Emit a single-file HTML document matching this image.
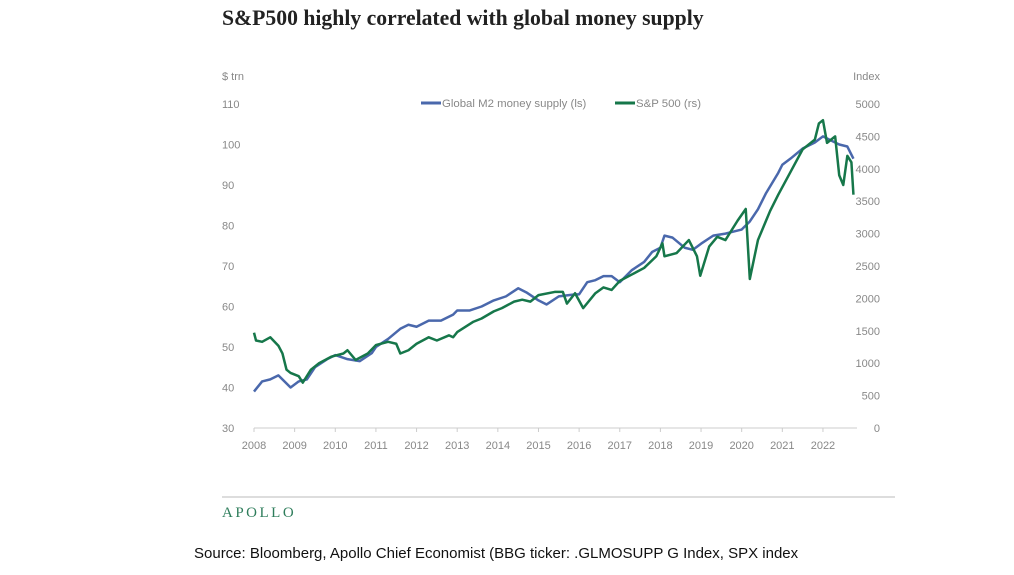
<!DOCTYPE html>
<html><head><meta charset="utf-8"><style>
body{margin:0;width:1014px;height:570px;background:#fff;overflow:hidden;font-family:"Liberation Sans",sans-serif}
</style></head><body>
<svg width="1014" height="570">
<text x="222" y="25" font-family="Liberation Serif" font-weight="bold" font-size="21.7" fill="#222">S&amp;P500 highly correlated with global money supply</text>
<text x="222" y="80" font-size="11" fill="#888">$ trn</text>
<text x="880" y="80" font-size="11" fill="#888" text-anchor="end">Index</text>
<g>
<line x1="421" y1="103" x2="441" y2="103" stroke="#4a68ac" stroke-width="3"/>
<text x="442" y="107" font-size="11.4" fill="#888">Global M2 money supply (ls)</text>
<line x1="615" y1="103" x2="635" y2="103" stroke="#16774a" stroke-width="3"/>
<text x="636" y="107" font-size="11.4" fill="#888">S&amp;P 500 (rs)</text>
</g>
<g id="axes"></g>
<g id="lines"></g>
<line x1="222" y1="497" x2="895" y2="497" stroke="#bbb" stroke-width="1"/>
<text x="222" y="517" font-family="Liberation Serif" font-size="15" letter-spacing="2.5" fill="#2e7d5b">APOLLO</text>
<text x="194" y="558" font-size="15" fill="#111">Source: Bloomberg, Apollo Chief Economist (BBG ticker: .GLMOSUPP G Index, SPX index</text>
</svg>
<script>
const years=[2008,2009,2010,2011,2012,2013,2014,2015,2016,2017,2018,2019,2020,2021,2022];
const leftTicks=[30,40,50,60,70,80,90,100,110];
const rightTicks=[0,500,1000,1500,2000,2500,3000,3500,4000,4500,5000];
const m2T=[2008,2008.2,2008.4,2008.6,2008.9,2009.1,2009.3,2009.5,2009.8,2010,2010.3,2010.6,2010.9,2011,2011.3,2011.6,2011.8,2012,2012.3,2012.6,2012.9,2013,2013.3,2013.6,2013.9,2014.2,2014.5,2014.7,2015,2015.2,2015.5,2015.9,2016,2016.2,2016.4,2016.6,2016.8,2017,2017.3,2017.6,2017.8,2018,2018.1,2018.3,2018.6,2018.8,2019,2019.3,2019.6,2019.8,2020,2020.2,2020.4,2020.6,2020.9,2021,2021.2,2021.5,2021.8,2022,2022.2,2022.4,2022.6,2022.75];
const m2V=[39,41.5,42,43,40,41.5,42,45,47,48,47,46.5,48.5,50,52,54.5,55.5,55,56.5,56.5,58,59,59,60,61.5,62.5,64.5,63.5,61.5,60.5,62.5,63,63,66,66.5,67.5,67.5,66,69,71,73.5,74.5,77.5,77,74.5,74,75.5,77.5,78,78.5,79,81,84,88,93,95,96.5,99,100.5,102,101,100,99.5,96.5];
const spxT=[2008,2008.05,2008.2,2008.4,2008.6,2008.7,2008.8,2008.9,2009.1,2009.2,2009.4,2009.6,2009.9,2010.2,2010.3,2010.5,2010.8,2011,2011.3,2011.5,2011.6,2011.8,2012,2012.3,2012.5,2012.8,2012.9,2013,2013.4,2013.6,2013.9,2014.1,2014.4,2014.6,2014.8,2015,2015.4,2015.6,2015.7,2015.9,2016.1,2016.4,2016.6,2016.8,2017,2017.3,2017.6,2017.9,2018.05,2018.1,2018.4,2018.7,2018.9,2018.98,2019.2,2019.4,2019.6,2019.9,2020.1,2020.2,2020.4,2020.6,2020.7,2020.9,2021.2,2021.5,2021.8,2021.9,2022,2022.1,2022.3,2022.4,2022.5,2022.6,2022.7,2022.75];
const spxV=[1470,1350,1330,1400,1270,1150,900,850,800,700,900,1000,1100,1150,1200,1050,1150,1280,1330,1300,1150,1200,1300,1400,1350,1430,1400,1480,1640,1690,1800,1850,1950,1980,1950,2050,2100,2100,1920,2080,1850,2080,2170,2130,2270,2370,2470,2650,2850,2650,2700,2900,2650,2350,2800,2950,2900,3200,3380,2300,2900,3200,3350,3600,3950,4300,4450,4700,4750,4400,4500,3900,3750,4200,4100,3600];
const NS="http://www.w3.org/2000/svg";
const x=t=>254+(t-2008)*40.64;
const yL=v=>428-(v-30)*4.05;
const yR=v=>428-v*0.0648;
const ax=document.getElementById('axes'),ln=document.getElementById('lines');
function mk(tag,at,par){const e=document.createElementNS(NS,tag);for(const k in at)e.setAttribute(k,at[k]);par.appendChild(e);return e;}
const base=mk('line',{x1:254,y1:428,x2:857,y2:428,stroke:'#ccc'},ax);


years.forEach(yr=>{
 mk('line',{x1:x(yr),y1:428,x2:x(yr),y2:432,stroke:'#ccc'},ax);
 const t=mk('text',{x:x(yr),y:449,'font-size':11,fill:'#888','text-anchor':'middle'},ax);t.textContent=yr;
 
 
});
leftTicks.forEach(v=>{const t=mk('text',{x:222,y:yL(v)+4,'font-size':11,fill:'#888'},ax);t.textContent=v;
 
 });
rightTicks.forEach(v=>{const t=mk('text',{x:880,y:yR(v)+4,'font-size':11,fill:'#888','text-anchor':'end'},ax);t.textContent=v;
 
 });
const pm=mk('polyline',{points:m2T.map((t,i)=>x(t)+','+yL(m2V[i])).join(' '),fill:'none',stroke:'#4a68ac','stroke-width':2.5,'stroke-linejoin':'round'},ln);


const ps=mk('polyline',{points:spxT.map((t,i)=>x(t)+','+yR(spxV[i])).join(' '),fill:'none',stroke:'#16774a','stroke-width':2.5,'stroke-linejoin':'round'},ln);


</script>
</body></html>
